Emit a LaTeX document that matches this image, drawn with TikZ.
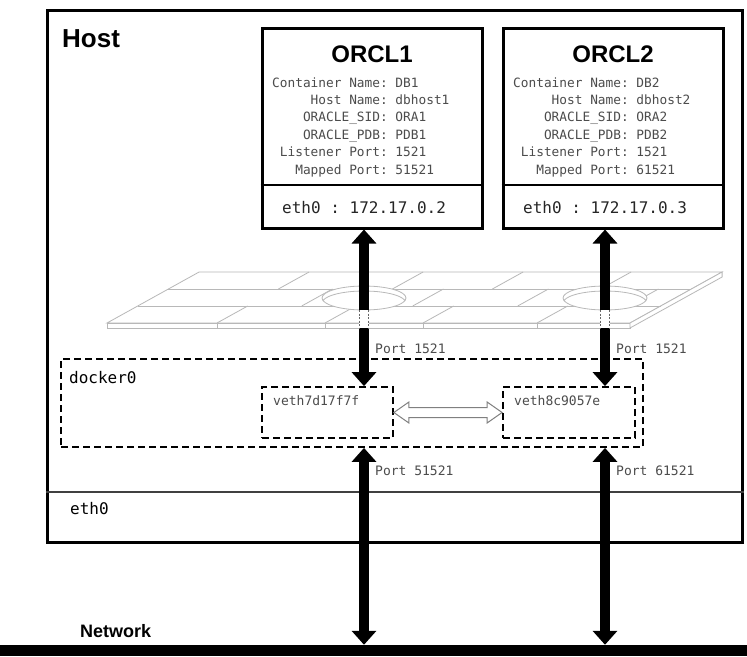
\documentclass[tikz,border=0pt]{standalone}
\usepackage{fontspec}
\setmainfont{Liberation Sans}
\setmonofont{DejaVu Sans Mono}
\usepackage{tikz}
\usetikzlibrary{arrows.meta,calc}

\definecolor{plategray}{gray}{0.72}
\definecolor{txtgray}{gray}{0.3}

\begin{document}
\begin{tikzpicture}[x=1pt,y=-1pt,
  box/.style={draw,line width=3pt,fill=white,inner sep=0pt},
  dbox/.style={draw,line width=1.8pt,dash pattern=on 7pt off 4pt,inner sep=0pt},
  bigarrow/.style={line width=10pt,{Triangle[width=24pt,length=14pt]}-{Triangle[width=24pt,length=14pt]}},
  title/.style={font=\bfseries\fontsize{24}{28}\selectfont,inner sep=0pt,anchor=base},
  info/.style={font=\ttfamily\fontsize{12.8}{17.4}\selectfont,text=txtgray,inner sep=0pt,anchor=base west},
  port/.style={font=\ttfamily\fontsize{13}{15}\selectfont,text=txtgray,inner sep=0pt,anchor=base west},
  iface/.style={font=\ttfamily\fontsize{16}{18}\selectfont,inner sep=0pt,anchor=base west},
  brick/.style={draw=plategray,line width=0.8pt}]
\useasboundingbox (0,0) rectangle (747,656);

% host machine
\node[box,minimum width=695pt,minimum height=532pt] (host) at (394.5,276) {};
\node[font=\bfseries\fontsize{26}{30}\selectfont,inner sep=0pt,anchor=base west] (hostlbl) at (62,47) {Host};
\draw[line width=1.2pt,black!75] (host.west |- 0,492) -- (host.east |- 0,492);
\node[iface] (eth) at (70,514) {eth0};

% firewall plate
\begin{scope}[shift={(107,323)},x={(1pt,0pt)},y={(30.7pt,17pt)}]
\filldraw[brick,fill=white] (0,0) -- (523,0) -- (523,3) -- (0,3) -- cycle;
\filldraw[brick,fill=white] (0,0) -- (523,0) -- ([yshift=-5pt]523,0) -- ([yshift=-5pt]0,0) -- cycle;
\filldraw[brick,fill=white] (523,0) -- (523,3) -- ([yshift=-5pt]523,3) -- ([yshift=-5pt]523,0) -- cycle;
\foreach \v in {1,2} \draw[brick] (0,\v) -- (523,\v);
\foreach \u in {110,218,316,430} {
  \draw[brick] (\u,0) -- (\u,1);
  \draw[brick] (\u,0) -- ([yshift=-5pt]\u,0);
}
\foreach \u in {164,275,380,490} \draw[brick] (\u,1) -- (\u,2);
\foreach \u in {110,224,324,432} \draw[brick] (\u,2) -- (\u,3);
\end{scope}
% holes
\foreach \hx in {364,605} {
  \filldraw[brick,fill=white] (\hx,298) ellipse [x radius=42pt,y radius=12pt];
  \begin{scope}
    \clip (\hx,298) ellipse [x radius=42pt,y radius=12pt];
    \draw[brick] (\hx-42,303) arc [start angle=180,end angle=0,x radius=42pt,y radius=12pt];
  \end{scope}
}

% containers
\node[box,minimum width=220pt,minimum height=200pt] (orcl1) at (372,128) {};
\node[box,minimum width=220pt,minimum height=200pt] (orcl2) at (613,128) {};
\draw[line width=1.5pt] (orcl1.west |- 0,185) -- (orcl1.east |- 0,185);
\draw[line width=1.5pt] (orcl2.west |- 0,185) -- (orcl2.east |- 0,185);
\node[title] (t1) at (372,62) {ORCL1};
\node[title] (t2) at (613,62) {ORCL2};
\node[info] (i1) at (272,87) {\begin{tabular}[t]{@{}r@{ }l@{}}
  Container Name:&DB1\\ Host Name:&dbhost1\\ ORACLE\_SID:&ORA1\\
  ORACLE\_PDB:&PDB1\\ Listener Port:&1521\\ Mapped Port:&51521\end{tabular}};
\node[info] (i2) at (513,87) {\begin{tabular}[t]{@{}r@{ }l@{}}
  Container Name:&DB2\\ Host Name:&dbhost2\\ ORACLE\_SID:&ORA2\\
  ORACLE\_PDB:&PDB2\\ Listener Port:&1521\\ Mapped Port:&61521\end{tabular}};
\node[iface,text=black!85] (ip1) at (282,213) {eth0 : 172.17.0.2};
\node[iface,text=black!85] (ip2) at (523,213) {eth0 : 172.17.0.3};

% bridge
\node[dbox,minimum width=582pt,minimum height=88pt] (docker) at (352,403) {};
\node[iface] (dlbl) at (69,383) {docker0};
\node[dbox,minimum width=131pt,minimum height=51pt] (veth1) at (327.5,412.5) {};
\node[dbox,minimum width=132pt,minimum height=51pt] (veth2) at (569,412.5) {};
\node[port] (v1) at (273,405) {veth7d17f7f};
\node[port] (v2) at (514,405) {veth8c9057e};
\filldraw[draw=black!50,fill=white,line width=1pt] (veth1.east) -- ++(15,-10.5) -- ++(0,5.5)
  -- ($(veth2.west)+(-15,-5)$) -- ++(0,-5.5) -- (veth2.west) -- ++(-15,10.5) -- ++(0,-5.5)
  -- ($(veth1.east)+(15,5)$) -- ++(0,5.5) -- cycle;

% network
\node[fill=black,inner sep=0pt,minimum width=747pt,minimum height=11pt] (net) at (373.5,650.5) {};
\node[font=\bfseries\fontsize{18}{20}\selectfont,inner sep=0pt,anchor=base west] (netlbl) at (80,637) {Network};

% links
\coordinate (c1) at (364,0);
\coordinate (c2) at (605,0);
\foreach \c in {c1,c2} {
  \draw[bigarrow] (\c |- orcl1.south) -- (\c |- veth1.north);
  \draw[bigarrow] (\c |- docker.south) -- (\c |- net.north);
  \fill[white] ($(\c)+(-5,310)$) rectangle ($(\c)+(5,328)$);
  \draw[black!60,line width=0.8pt,dash pattern=on 2pt off 1.5pt] ($(\c)+(-4.5,310)$) -- ($(\c)+(-4.5,328)$);
  \draw[black!60,line width=0.8pt,dash pattern=on 2pt off 1.5pt] ($(\c)+(4.5,310)$) -- ($(\c)+(4.5,328)$);
}
\node[port] (p1) at (375,353) {Port 1521};
\node[port] (p2) at (616,353) {Port 1521};
\node[port] (p3) at (375,475) {Port 51521};
\node[port] (p4) at (616,475) {Port 61521};
\end{tikzpicture}
\end{document}
